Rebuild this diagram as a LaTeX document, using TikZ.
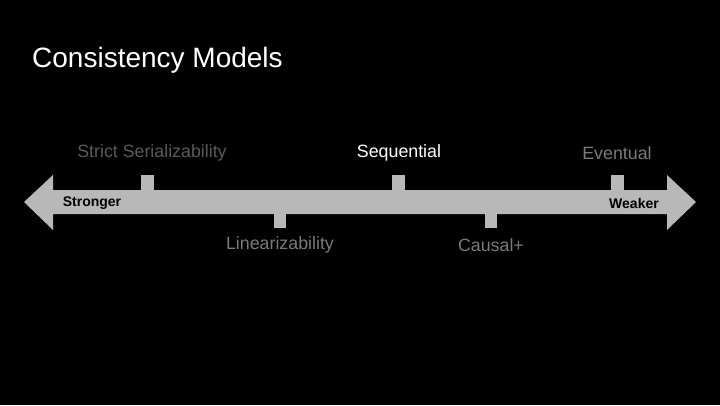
\documentclass[tikz,border=0pt]{standalone}
\usepackage{fontspec}
\setmainfont{Liberation Sans}
\begin{document}
\begin{tikzpicture}[x=1pt,y=-1pt,
  lbl/.style={font=\fontsize{17.8}{20}\selectfont,anchor=center},
  tick/.style={fill=bar,draw=none}]
\definecolor{bar}{HTML}{B8B8B8}
\definecolor{dimg}{HTML}{5A5A5A}
\definecolor{midg}{HTML}{7A7A7A}
\fill[black] (0,0) rectangle (720,405);
\useasboundingbox (0,0) rectangle (720,405);
\node[anchor=west,text=white,font=\fontsize{28}{32}\selectfont,inner sep=0pt] (title) at (32,60) {Consistency Models};
\fill[bar] (24,202) -- (53,175) -- (53,190) -- (667,190) -- (667,175) -- (696,202) -- (667,230) -- (667,214) -- (53,214) -- (53,230) -- cycle;
\fill[tick] (141,175) rectangle (154,191);
\fill[tick] (392,175) rectangle (405,191);
\fill[tick] (611,175) rectangle (624,191);
\fill[tick] (274,213) rectangle (286,228);
\fill[tick] (485,213) rectangle (497,228);
\node[lbl,text=dimg] (ss) at (152,153) {Strict Serializability};
\node[lbl,text=white] (seq) at (399,153) {Sequential};
\node[lbl,text=midg] (ev) at (617,153) {Eventual};
\node[lbl,text=midg] (lin) at (280,245) {Linearizability};
\node[lbl,text=midg] (cau) at (491,245) {Causal+};
\node[font=\bfseries\fontsize{14}{16}\selectfont,text=black] (str) at (92,203) {Stronger};
\node[font=\bfseries\fontsize{14}{16}\selectfont,text=black] (wk) at (634,203) {Weaker};
\end{tikzpicture}
\end{document}
